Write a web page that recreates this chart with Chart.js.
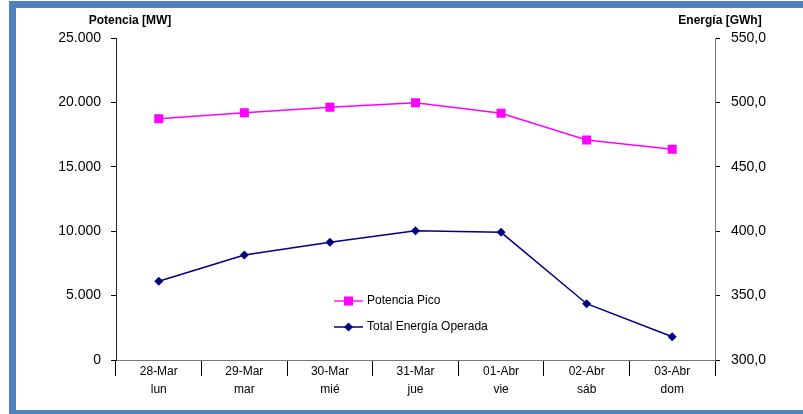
<!DOCTYPE html>
<html>
<head>
<meta charset="utf-8">
<script src="https://cdn.jsdelivr.net/npm/chart.js@4"></script>
<style>
  body { margin: 0; background: #fff; }
  #wrap { position: relative; width: 803px; height: 414px; }
  #frame {
    position: absolute; left: 9px; top: 1px; width: 794px; height: 413px;
    box-sizing: border-box; pointer-events: none;
    border-left: 7px solid #4f81bd; border-top: 7px solid #4f81bd; border-bottom: 4px solid #4f81bd;
  }
</style>
</head>
<body>
<div id="wrap">
  <canvas id="myChart"></canvas>
  <div id="frame"></div>
</div>
<script>
// datos
let fechas = ["28-Mar", "29-Mar", "30-Mar", "31-Mar", "01-Abr", "02-Abr", "03-Abr"];
let dias = ["lun", "mar", "mié", "jue", "vie", "sáb", "dom"];
let potenciaPico = [18735, 19200, 19620, 19977, 19153, 17081, 16359]; // MW
let energiaOperada = [361.1, 381.5, 391.4, 400.4, 399.1, 343.7, 318.1]; // GWh
let ticksPotencia = [0, 5000, 10000, 15000, 20000, 25000];
let ticksEnergia = [300, 350, 400, 450, 500, 550];

Chart.defaults.font.family = "'Liberation Sans', Arial, sans-serif";
Chart.defaults.color = "#000";

// títulos de los ejes arriba, horizontales
const titulosEjes = {
  id: "titulosEjes",
  afterDraw(chart) {
    const c = chart.ctx;
    c.save();
    c.font = "bold 12px 'Liberation Sans', Arial";
    c.fillStyle = "#000";
    c.textAlign = "center";
    c.textBaseline = "middle";
    c.fillText("Potencia [MW]", chart.scales.y.right + 14, 21);
    c.fillText("Energía [GWh]", chart.scales.y1.left + 5, 21);
    c.restore();
  },
};

// leyenda dentro del área del gráfico
const leyendaInterna = {
  id: "leyendaInterna",
  afterDatasetsDraw(chart) {
    const c = chart.ctx;
    const x0 = chart.chartArea.left + 218;
    const filas = [chart.chartArea.bottom - 59, chart.chartArea.bottom - 33];
    c.save();
    chart.data.datasets.forEach((ds, i) => {
      const y = filas[i];
      c.strokeStyle = ds.borderColor;
      c.lineWidth = ds.borderWidth;
      c.beginPath();
      c.moveTo(x0, y);
      c.lineTo(x0 + 29, y);
      c.stroke();
      c.fillStyle = ds.pointBackgroundColor;
      Chart.helpers.drawPoint(c, {
        pointStyle: ds.pointStyle,
        radius: ds.pointRadius,
        rotation: 0,
        borderWidth: 0,
      }, x0 + 14.5, y);
      c.fillStyle = "#000";
      c.font = "12px 'Liberation Sans', Arial";
      c.textAlign = "left";
      c.textBaseline = "middle";
      c.fillText(ds.label, x0 + 33, y);
    });
    c.restore();
  },
};

let ctx = document.getElementById("myChart").getContext("2d");
let myChart = new Chart(ctx, {
  type: "line",
  data: {
    labels: fechas.map((f, i) => [f, dias[i]]),
    datasets: [
      {
        label: "Potencia Pico",
        data: potenciaPico,
        yAxisID: "y",
        borderColor: "#ff00ff",
        backgroundColor: "#ff00ff",
        pointBackgroundColor: "#ff00ff",
        pointBorderColor: "#ff00ff",
        pointStyle: "rect",
        pointRadius: 6.4,
        pointBorderWidth: 0,
        borderWidth: 1.4,
        tension: 0,
      },
      {
        label: "Total Energía Operada",
        data: energiaOperada,
        yAxisID: "y1",
        borderColor: "#000080",
        backgroundColor: "#000080",
        pointBackgroundColor: "#000080",
        pointBorderColor: "#000080",
        pointStyle: "rectRot",
        pointRadius: 4.5,
        pointBorderWidth: 0,
        borderWidth: 1.5,
        tension: 0,
      },
    ],
  },
  options: {
    responsive: true,
    maintainAspectRatio: false,
    animation: false,
    layout: { padding: { top: 38, left: 0, right: 0, bottom: 0 } },
    plugins: {
      legend: { display: false },
      tooltip: { enabled: false },
      title: { display: false },
    },
    scales: {
      x: {
        offset: true,
        grid: { offset: true, drawOnChartArea: false, tickLength: 16, color: "#000" },
        border: { display: true, color: "#777" },
        ticks: { font: { size: 12, lineHeight: 1.5 }, padding: -13, maxRotation: 0, autoSkip: false },
        afterFit(s) { s.height = 54; },
      },
      y: {
        position: "left",
        min: 0,
        max: 25000,
        afterBuildTicks(s) { s.ticks = ticksPotencia.map((v) => ({ value: v })); },
        grid: { drawOnChartArea: false, tickLength: 5, color: "#000" },
        border: { display: true, color: "#222" },
        ticks: {
          font: { size: 14 },
          padding: 10,
          callback: (v) => String(v).replace(/\B(?=(\d{3})+(?!\d))/g, "."),
        },
        afterFit(s) { s.width = 116; },
      },
      y1: {
        position: "right",
        min: 300,
        max: 550,
        afterBuildTicks(s) { s.ticks = ticksEnergia.map((v) => ({ value: v })); },
        grid: { drawOnChartArea: false, tickLength: 5, color: "#000" },
        border: { display: true, color: "#777" },
        ticks: {
          font: { size: 14 },
          padding: 11,
          callback: (v) => v.toFixed(1).replace(".", ","),
        },
        afterFit(s) { s.width = 88; },
      },
    },
  },
  plugins: [titulosEjes, leyendaInterna],
});
</script>
</body>
</html>
